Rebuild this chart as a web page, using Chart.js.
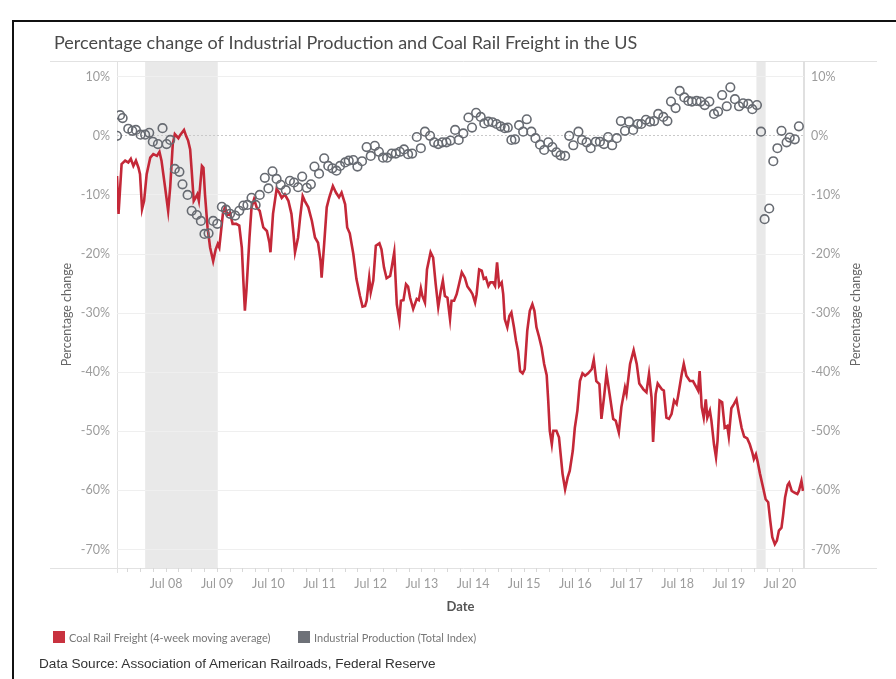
<!DOCTYPE html>
<html>
<head>
<meta charset="utf-8">
<title>Coal Rail Freight vs Industrial Production</title>
<script src="https://cdn.jsdelivr.net/npm/chart.js@4.4.0/dist/chart.umd.min.js"></script>
<style>
  body { margin: 0; background: #fff; }
  #wrap { position: relative; width: 896px; height: 679px; overflow: hidden; }
  #frame { position: absolute; left: 12px; top: 20px; width: 900px; height: 700px;
           border-top: 2px solid #111; border-left: 2px solid #111; pointer-events: none; }
  canvas { position: absolute; left: 0; top: 0; }
  .key { position: absolute; top: 631px; font: 11px Lato, sans-serif; color: #777; white-space: nowrap; line-height: 13px; }
  .key i { display: inline-block; width: 12px; height: 12px; vertical-align: top; margin-right: 4px; }
  #source { position: absolute; left: 39px; top: 656px; font: 13.6px "Liberation Sans", Arial, sans-serif; color: #333; }
</style>
</head>
<body>
<div id="wrap">
  <canvas id="chart" width="896" height="679"></canvas>
  <div id="frame"></div>
  <div class="key" style="left:53px"><i style="background:#c8323f"></i>Coal Rail Freight (4-week moving average)</div>
  <div class="key" style="left:298px"><i style="background:#6e7178"></i>Industrial Production (Total Index)</div>
  <div id="source">Data Source: Association of American Railroads, Federal Reserve</div>
</div>
<script>
// Coal rail freight, 4-week moving average, % change (dates as decimal years)
var coalDates = [
  2007.54,2007.57,2007.63,2007.70,2007.76,2007.81,2007.86,2007.91,2007.96,2007.99,
  2008.03,2008.07,2008.12,2008.19,2008.25,2008.32,2008.37,2008.41,2008.48,2008.54,
  2008.58,2008.63,2008.67,2008.74,2008.78,2008.85,2008.89,2008.93,2008.97,2009.00,
  2009.04,2009.08,2009.11,2009.14,2009.20,2009.23,2009.26,2009.31,2009.36,2009.42,
  2009.47,2009.51,2009.54,2009.61,2009.65,2009.70,2009.75,2009.80,2009.87,2009.93,
  2009.98,2010.01,2010.04,2010.07,2010.13,2010.17,2010.22,2010.27,2010.33,2010.40,
  2010.47,2010.52,2010.54,2010.59,2010.66,2010.71,2010.76,2010.82,2010.89,2010.95,
  2010.99,2011.02,2011.08,2011.12,2011.17,2011.21,2011.28,2011.35,2011.41,2011.47,
  2011.52,2011.54,2011.59,2011.64,2011.69,2011.76,2011.82,2011.88,2011.93,2012.00,
  2012.04,2012.09,2012.16,2012.22,2012.29,2012.34,2012.39,2012.42,2012.47,2012.50,
  2012.55,2012.60,2012.67,2012.71,2012.76,2012.81,2012.88,2012.91,2012.96,2013.01,
  2013.06,2013.09,2013.14,2013.19,2013.23,2013.27,2013.33,2013.40,2013.44,2013.48,
  2013.51,2013.56,2013.60,2013.67,2013.72,2013.77,2013.82,2013.87,2013.91,2013.95,
  2014.00,2014.05,2014.08,2014.13,2014.18,2014.21,2014.28,2014.34,2014.39,2014.45,
  2014.49,2014.54,2014.57,2014.62,2014.67,2014.71,2014.75,2014.80,2014.84,2014.89,
  2014.93,2014.97,2015.01,2015.06,2015.09,2015.12,2015.17,2015.21,2015.25,2015.30,
  2015.34,2015.38,2015.42,2015.47,2015.51,2015.56,2015.61,2015.66,2015.70,2015.74,
  2015.79,2015.84,2015.89,2015.94,2015.97,2016.00,2016.04,2016.07,2016.13,2016.18,
  2016.25,2016.30,2016.35,2016.39,2016.45,2016.49,2016.54,2016.59,2016.64,2016.69,
  2016.75,2016.82,2016.86,2016.91,2016.97,2017.01,2017.06,2017.11,2017.17,2017.24,
  2017.29,2017.35,2017.40,2017.47,2017.50,2017.57,2017.64,2017.70,2017.75,2017.83,
  2017.89,2017.94,2017.99,2018.02,2018.07,2018.11,2018.19,2018.23,2018.28,2018.33,
  2018.38,2018.43,2018.48,2018.51,2018.58,2018.62,2018.67,2018.74,2018.80,2018.87,
  2018.90,2018.93,2018.97,2019.01,2019.05,2019.08,2019.13,2019.16,2019.21,2019.25,
  2019.28,2019.32,2019.37,2019.42,2019.47,2019.50,2019.55,2019.60,2019.65,2019.70,
  2019.75,2019.80,2019.86,2019.91,2019.96,2019.99,2020.03,2020.06,2020.11,2020.17,
  2020.22,2020.27,2020.31,2020.35,2020.40,2020.44,2020.48,2020.53,2020.56,2020.60,
  2020.65,2020.68,2020.73,2020.79,2020.84,2020.87,2020.92,2020.95
];
var coalValues = [
  -6.8,-13.2,-4.8,-4.2,-4.5,-3.9,-5.1,-4.2,-5.4,-6.5,
  -12.4,-11.0,-6.5,-3.7,-3.1,-3.4,-2.7,-4.2,-8.7,-12.7,
  -8.7,-1.4,0.3,-0.4,0.2,1.0,0,-0.8,-2.3,-5.9,
  -11.0,-10.4,-9.9,-11.0,-5.1,-5.4,-9.9,-15.5,-18.9,-21.2,
  -19.2,-18.3,-18.9,-13.2,-12.1,-13.4,-13.0,-14.9,-14.9,-15.2,
  -18.9,-24.5,-29.6,-26.2,-17.2,-12.1,-10.7,-12.1,-12.7,-15.5,
  -16.1,-18.1,-19.7,-13.2,-9.0,-9.6,-10.5,-9.9,-11.0,-13.2,
  -16.6,-19.7,-17.2,-13.8,-10.2,-11.0,-12.1,-14.4,-17.2,-18.1,
  -21.2,-24.0,-18.3,-12.1,-10.4,-8.5,-9.6,-10.4,-9.6,-11.6,
  -15.5,-16.5,-20.0,-24.2,-27.1,-28.9,-28.8,-27.9,-24.0,-26.5,
  -24.5,-18.6,-18.2,-19.2,-22.3,-24.1,-23.7,-22.3,-19.7,-28.5,
  -31.2,-27.9,-27.8,-25.1,-25.5,-27.4,-29.3,-27.6,-27.8,-25.8,
  -27.1,-28.2,-22.6,-19.7,-20.6,-25.1,-29.0,-26.2,-24.5,-27.1,
  -27.4,-31.0,-27.9,-27.9,-26.8,-25.7,-23.1,-24.0,-25.5,-26.2,
  -26.8,-28.2,-26.8,-22.6,-22.8,-24.2,-24.0,-25.4,-24.8,-24.8,
  -25.4,-21.4,-25.4,-24.8,-26.8,-31.0,-32.4,-30.5,-29.9,-32.4,
  -34.7,-36.4,-39.8,-40.2,-39.5,-33.0,-29.6,-28.5,-29.6,-32.4,
  -34.0,-35.8,-38.6,-40.5,-44.8,-49.9,-52.2,-49.9,-49.9,-51.0,
  -57.2,-59.8,-57.8,-56.7,-53.3,-49.4,-46.5,-41.5,-40.2,-40.6,
  -40.2,-39.5,-37.9,-41.5,-42.0,-47.9,-44.3,-40.2,-43.7,-47.9,
  -48.2,-50.2,-45.9,-42.6,-43.7,-38.6,-36.3,-38.6,-41.9,-42.9,
  -43.4,-40.3,-44.3,-51.8,-43.7,-41.9,-42.9,-43.1,-47.7,-47.9,
  -47.1,-44.8,-45.4,-44.0,-40.3,-38.6,-40.6,-41.5,-41.5,-42.6,
  -43.1,-39.8,-45.9,-47.7,-44.6,-47.7,-46.5,-48.2,-52.2,-54.4,
  -51.6,-44.8,-45.1,-49.4,-49.1,-50.9,-46.1,-45.4,-44.6,-47.1,
  -49.4,-50.9,-51.2,-52.2,-53.6,-54.7,-53.9,-55.0,-57.2,-59.5,
  -61.5,-62.0,-65.1,-67.9,-69.1,-68.5,-66.8,-66.3,-64.3,-61.2,
  -59.1,-58.7,-60.1,-60.4,-60.6,-60.1,-58.4,-60.1
];

// Industrial production (total index), monthly % change year on year
var ipDates = [
  2007.54,2007.60,2007.65,2007.76,2007.84,2007.91,2008.00,2008.09,2008.17,2008.24,
  2008.34,2008.43,2008.51,2008.58,2008.67,2008.76,2008.82,2008.92,2009.00,2009.10,
  2009.18,2009.25,2009.33,2009.42,2009.50,2009.59,2009.67,2009.75,2009.85,2009.93,
  2010.01,2010.09,2010.17,2010.25,2010.33,2010.43,2010.50,2010.58,2010.66,2010.74,
  2010.84,2010.92,2011.00,2011.08,2011.16,2011.25,2011.33,2011.40,2011.49,2011.59,
  2011.67,2011.75,2011.83,2011.90,2012.00,2012.07,2012.16,2012.24,
  2012.33,2012.42,2012.50,2012.58,2012.66,2012.74,2012.82,2012.91,2012.99,2013.07,
  2013.15,2013.23,2013.31,2013.40,2013.48,2013.56,2013.66,2013.74,2013.82,2013.90,
  2013.98,2014.06,2014.15,2014.22,2014.31,2014.41,2014.48,2014.56,2014.65,2014.72,
  2014.80,2014.88,2014.96,2015.04,2015.12,2015.18,2015.25,2015.32,2015.40,2015.48,
  2015.55,2015.64,2015.72,2015.81,2015.89,2015.97,2016.05,2016.13,2016.21,2016.30,
  2016.38,2016.46,2016.56,2016.63,2016.72,2016.80,
  2016.90,2016.98,2017.06,2017.14,2017.22,2017.31,2017.39,2017.47,2017.55,2017.63,
  2017.72,2017.79,2017.88,2017.96,2018.04,2018.12,2018.22,2018.30,2018.37,2018.46,
  2018.54,2018.63,2018.71,2018.78,2018.87,2018.95,2019.03,2019.12,2019.21,2019.29,
  2019.37,2019.46,2019.53,2019.62,2019.70,2019.78,2019.88,2019.96,2020.05,2020.13,
  2020.20,2020.29,2020.37,2020.45,2020.53,2020.63,2020.69,2020.79,2020.87
];
var ipValues = [
  0,3.5,3.0,1.2,0.85,1.0,0.2,0.2,0.5,-1.0,
  -1.4,1.3,-1.4,-0.7,-5.6,-6.1,-8.2,-10.0,-12.7,-13.4,
  -14.4,-16.6,-16.5,-14.4,-14.9,-12.0,-12.5,-13.2,-13.5,-12.7,
  -11.8,-11.7,-10.5,-11.7,-10.0,-7.1,-8.9,-6.0,-7.3,-8.3,
  -9.2,-7.6,-7.9,-8.7,-6.9,-8.8,-8.2,-5.2,-6.4,-3.8,
  -5.1,-5.5,-5.9,-5.1,-4.5,-4.2,-4.1,-5.2,
  -4.3,-1.9,-3.4,-1.7,-2.7,-3.7,-3.7,-3.0,-3.0,-2.7,
  -2.3,-3.1,-3.0,-0.2,-2.1,0.7,0,-1.1,-1.4,-1.1,
  -1.1,-0.8,1.0,-0.7,0.4,3.1,1.4,3.9,3.2,2.1,
  2.4,2.3,2.0,1.6,1.3,1.4,-0.7,-0.6,1.8,0.7,
  2.8,0.7,-0.4,-1.5,-2.4,-1.1,-1.9,-2.8,-3.3,-3.4,
  0,-1.6,0.7,-0.7,-1.1,-2.1,
  -1.0,-1.0,-1.4,-0.2,-1.6,-0.4,2.5,0.85,2.4,1.0,
  2.0,2.0,2.7,2.4,2.5,3.7,3.2,2.5,5.8,4.7,
  7.6,6.5,5.9,5.8,5.9,5.8,5.2,5.8,3.7,4.1,
  6.9,5.0,8.2,6.2,5.0,5.5,5.4,4.5,5.2,0.7,
  -14.1,-12.3,-4.3,-2.1,0.85,-1.1,-0.3,-0.6,1.6
];

// recession periods (shaded)
var recessionStart = [2008.09, 2020.04];
var recessionEnd = [2009.51, 2020.22];

var xTickLabels = ['Jul 08','Jul 09','Jul 10','Jul 11','Jul 12','Jul 13','Jul 14','Jul 15','Jul 16','Jul 17','Jul 18','Jul 19','Jul 20'];
var firstJuly = 2008.5;
var yTicks = [10, 0, -10, -20, -30, -40, -50, -60, -70];
var yAxisTitle = 'Percentage change';

var xMin = 2007.54, xMax = 2020.97;
var yMin = -73.13, yMax = 12.66;

// quarter tick marks along the date axis
var quarterTicks = [];
for (var q = Math.ceil(xMin * 4) / 4; q <= xMax; q += 0.25) quarterTicks.push(q);

var coalPoints = coalDates.map(function(d, i) { return {x: d, y: coalValues[i]}; });
var ipPoints = ipDates.map(function(d, i) { return {x: d, y: ipValues[i]}; });

Chart.defaults.font.family = 'Lato, "Noto Sans", sans-serif';

// recession shading and the light pane borders, drawn under the grid
var paneDecor = {
  id: 'paneDecor',
  beforeDraw: function(chart) {
    var ctx = chart.ctx, a = chart.chartArea, x = chart.scales.x;
    ctx.save();
    ctx.fillStyle = '#e9e9e9';
    for (var i = 0; i < recessionStart.length; i++) {
      var x0 = x.getPixelForValue(recessionStart[i]);
      var x1 = x.getPixelForValue(recessionEnd[i]);
      ctx.fillRect(x0, a.top, x1 - x0, a.bottom - a.top);
    }
    ctx.strokeStyle = '#e2e2e2';
    ctx.lineWidth = 1;
    ctx.beginPath();
    ctx.moveTo(50, a.top + 0.5); ctx.lineTo(877, a.top + 0.5);
    ctx.moveTo(50, a.bottom + 0.5); ctx.lineTo(877, a.bottom + 0.5);
    ctx.moveTo(a.left + 0.5, a.top); ctx.lineTo(a.left + 0.5, a.bottom + 5);
    ctx.stroke();
    ctx.lineWidth = 2;
    ctx.strokeStyle = '#e0e0e0';
    ctx.beginPath();
    ctx.moveTo(a.right, a.top); ctx.lineTo(a.right, a.bottom);
    ctx.stroke();
    ctx.restore();
  },
  // right axis title reads bottom-to-top like the left one
  afterDraw: function(chart) {
    var ctx = chart.ctx, a = chart.chartArea, s = chart.scales.y2;
    ctx.save();
    ctx.translate(s.right - 5 - 7.5, (a.top + a.bottom) / 2);
    ctx.rotate(-Math.PI / 2);
    ctx.fillStyle = '#666';
    ctx.font = '12.5px Lato, "Noto Sans", sans-serif';
    ctx.textAlign = 'center';
    ctx.textBaseline = 'middle';
    ctx.fillText(yAxisTitle, 0, 0);
    ctx.restore();
  }
};

var tickFont = {size: 12.5};
var tickColor = '#9c9c9c';

function setYTicks(scale) {
  scale.ticks = yTicks.map(function(v) { return {value: v}; });
}

new Chart(document.getElementById('chart'), {
  type: 'line',
  data: {
    datasets: [{
      label: 'Industrial Production (Total Index)',
      data: ipPoints,
      showLine: false,
      pointRadius: 4.3,
      pointBorderWidth: 1.6,
      pointBorderColor: '#676b72',
      pointBackgroundColor: 'rgba(255,255,255,0)',
      order: 0
    }, {
      label: 'Coal Rail Freight (4-week moving average)',
      data: coalPoints,
      borderColor: '#c42838',
      borderWidth: 2.6,
      pointRadius: 0,
      tension: 0,
      order: 1
    }]
  },
  options: {
    responsive: false,
    animation: false,
    devicePixelRatio: 1,
    layout: { padding: {left: 54, right: 28, top: 0, bottom: 51} },
    plugins: {
      legend: { display: false },
      tooltip: { enabled: false },
      title: {
        display: true,
        text: 'Percentage change of Industrial Production and Coal Rail Freight in the US',
        align: 'start',
        color: '#4a4a4a',
        font: {size: 18, weight: 'normal'},
        padding: {top: 32, bottom: 7.4}
      }
    },
    scales: {
      x: {
        type: 'linear',
        min: xMin,
        max: xMax,
        afterBuildTicks: function(scale) {
          scale.ticks = quarterTicks.map(function(v) { return {value: v}; });
        },
        afterFit: function(scale) { scale.height = 60; },
        ticks: {
          autoSkip: false,
          maxRotation: 0,
          color: tickColor,
          font: tickFont,
          padding: 4,
          callback: function(value) {
            var k = value - firstJuly;
            if (Math.abs(k - Math.round(k)) > 0.001) return '';
            return xTickLabels[Math.round(k)] || '';
          }
        },
        grid: { drawOnChartArea: false, drawTicks: true, tickLength: 4, color: '#d8d8d8' },
        border: { display: false },
        title: {
          display: true, text: 'Date', color: '#555',
          font: {size: 13, weight: 'bold'},
          padding: {top: 0, bottom: 13}
        }
      },
      y: {
        position: 'left',
        min: yMin,
        max: yMax,
        afterBuildTicks: setYTicks,
        afterFit: function(scale) { scale.width = 63; },
        ticks: {
          color: tickColor, font: tickFont, padding: 7,
          callback: function(v) { return v + '%'; }
        },
        grid: {
          drawTicks: false,
          color: function(ctx) { return ctx.tick && ctx.tick.value === 0 ? '#c9c9c9' : '#efefef'; }
        },
        border: {
          display: false,
          dash: function(ctx) { return ctx.tick && ctx.tick.value === 0 ? [2, 2] : []; }
        },
        title: {
          display: true, text: yAxisTitle, color: '#666',
          font: {size: 12.5}, padding: {top: 5, bottom: 0}
        }
      },
      y2: {
        position: 'right',
        min: yMin,
        max: yMax,
        afterBuildTicks: setYTicks,
        afterFit: function(scale) { scale.width = 64; },
        ticks: {
          color: tickColor, font: tickFont, padding: 7,
          callback: function(v) { return v + '%'; }
        },
        grid: { drawOnChartArea: false, drawTicks: false },
        border: { display: false }
      }
    }
  },
  plugins: [paneDecor]
});
</script>
</body>
</html>
